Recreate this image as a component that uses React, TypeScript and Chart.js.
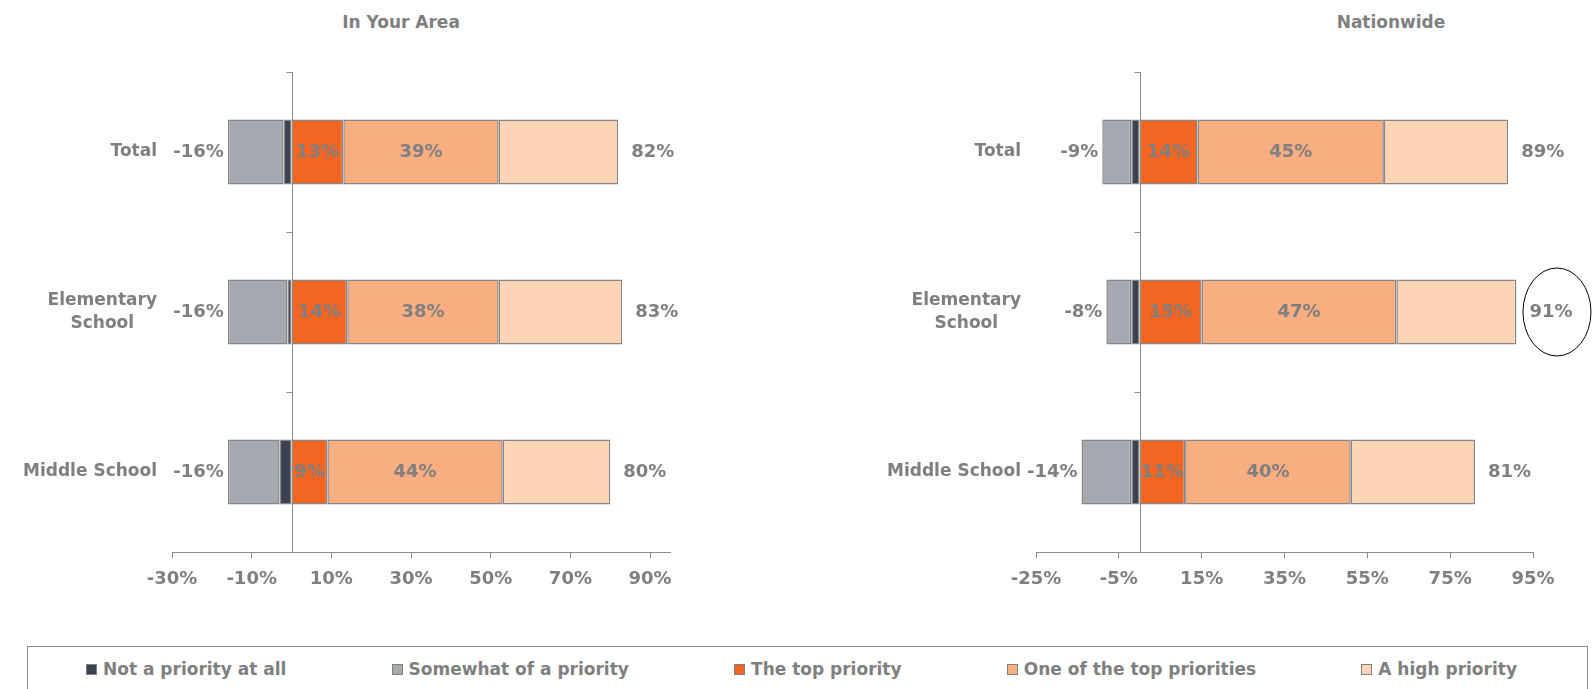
import React, { useEffect, useRef } from "react";
import { Chart, registerables } from "chart.js";

Chart.register(...registerables);

// ---- data ----
const categories: string[][] = [["Total"], ["Elementary", "School"], ["Middle School"]];
const seriesNames = [
  "Not a priority at all",
  "Somewhat of a priority",
  "The top priority",
  "One of the top priorities",
  "A high priority",
];
const seriesColors = ["#3b4150", "#a6a9af", "#f26522", "#f9ae82", "#fdd4b6"];
const insideLabelSeries = [false, false, true, true, false];

// In Your Area
const areaNotAtAll = [-2, -1, -3];
const areaSomewhat = [-14, -15, -13];
const areaTop = [13, 14, 9];
const areaOneOfTop = [39, 38, 44];
const areaHigh = [30, 31, 27];
const areaTicks = [-30, -10, 10, 30, 50, 70, 90];
const areaMin = -30;
const areaMax = 95;
const areaCircled = [false, false, false];

// Nationwide
const nationNotAtAll = [-2, -2, -2];
const nationSomewhat = [-7, -6, -12];
const nationTop = [14, 15, 11];
const nationOneOfTop = [45, 47, 40];
const nationHigh = [30, 29, 30];
const nationTicks = [-25, -5, 15, 35, 55, 75, 95];
const nationMin = -25;
const nationMax = 95;
const nationCircled = [false, true, false];

// ---- styles ----
const FONT = '"DejaVu Sans", sans-serif';
const TEXT = "#7f7f7f";
const AXIS = "#8c8c8c";
const BORDER = "#868686";

function makeOverlay(circled: boolean[]) {
  return {
    id: "overlay",
    afterDatasetsDraw(chart: any) {
      const { ctx, chartArea } = chart;
      const xs = chart.scales.x;
      const ys = chart.scales.y;
      const labels = chart.data.labels as string[][];
      const n = labels.length;
      ctx.save();
      // zero axis with category tick marks
      const x0 = Math.round(xs.getPixelForValue(0)) + 0.5;
      ctx.strokeStyle = AXIS;
      ctx.lineWidth = 1;
      ctx.beginPath();
      ctx.moveTo(x0, chartArea.top);
      ctx.lineTo(x0, chartArea.bottom);
      for (let i = 0; i <= n; i++) {
        const yy = Math.round(ys.getPixelForValue(i - 0.5)) + 0.5;
        ctx.moveTo(x0 - 6, yy);
        ctx.lineTo(x0, yy);
      }
      ctx.stroke();

      // category labels
      ctx.fillStyle = TEXT;
      ctx.textBaseline = "middle";
      ctx.font = `bold 17px ${FONT}`;
      const right = chartArea.left - 15;
      labels.forEach((lab, i) => {
        const lines = Array.isArray(lab) ? lab : [lab];
        const w = Math.max(...lines.map((l) => ctx.measureText(l).width));
        const cx = right - w / 2;
        const lh = 23;
        const yc = ys.getPixelForValue(i);
        ctx.textAlign = "center";
        lines.forEach((l, k) => ctx.fillText(l, cx, yc + (k - (lines.length - 1) / 2) * lh));
      });

      // value labels
      ctx.font = `bold 18px ${FONT}`;
      const datasets = chart.data.datasets;
      for (let i = 0; i < n; i++) {
        const yc = ys.getPixelForValue(i);
        let neg = 0;
        let pos = 0;
        datasets.forEach((ds: any, di: number) => {
          const v = ds.data[i] as number;
          if (v < 0) neg += v;
          else pos += v;
          if (insideLabelSeries[di]) {
            const el: any = chart.getDatasetMeta(di).data[i];
            ctx.textAlign = "center";
            ctx.fillStyle = TEXT;
            ctx.fillText(`${v}%`, (el.x + el.base) / 2, yc);
          }
        });
        ctx.fillStyle = TEXT;
        ctx.textAlign = "right";
        ctx.fillText(`${neg}%`, xs.getPixelForValue(neg) - 4, yc);
        ctx.textAlign = "left";
        const t = `${pos}%`;
        const tx = xs.getPixelForValue(pos) + 13;
        ctx.fillText(t, tx, yc);
        if (circled[i]) {
          const w = ctx.measureText(t).width;
          ctx.beginPath();
          ctx.ellipse(tx + w / 2 + 6, yc, 34, 44, 0, 0, Math.PI * 2);
          ctx.strokeStyle = "#000";
          ctx.lineWidth = 1;
          ctx.stroke();
        }
      }
      ctx.restore();
    },
  };
}

type PanelProps = {
  values: number[][];
  ticks: number[];
  min: number;
  max: number;
  circled: boolean[];
  left: number;
  width: number;
  height: number;
  padding: { left: number; right: number; top: number; bottom: number };
};

function ChartPanel(props: PanelProps) {
  const ref = useRef<HTMLCanvasElement>(null);
  useEffect(() => {
    const { values, ticks, min, max, circled, padding } = props;
    const chart = new Chart(ref.current as HTMLCanvasElement, {
      type: "bar",
      data: {
        labels: categories,
        datasets: values.map((d, k) => ({
          label: seriesNames[k],
          data: d,
          backgroundColor: seriesColors[k],
          borderColor: BORDER,
          borderWidth: 1.5,
          borderSkipped: false,
          barPercentage: 0.405,
          categoryPercentage: 1,
        })),
      },
      options: {
        indexAxis: "y",
        responsive: false,
        animation: false,
        layout: { padding },
        plugins: {
          legend: { display: false },
          tooltip: { enabled: false },
          title: { display: false },
        },
        scales: {
          x: {
            stacked: true,
            min,
            max,
            afterBuildTicks: (axis: any) => {
              axis.ticks = ticks.map((v) => ({ value: v }));
            },
            afterFit: (axis: any) => {
              axis.height = 40;
            },
            grid: {
              display: true,
              drawOnChartArea: false,
              drawTicks: true,
              tickLength: 6,
              color: AXIS,
              lineWidth: 1,
            },
            border: { display: true, color: AXIS, width: 1 },
            ticks: {
              autoSkip: false,
              maxRotation: 0,
              padding: 11,
              color: TEXT,
              font: { family: FONT, size: 18, weight: "bold" },
              callback: (v: any) => `${v}%`,
            },
          },
          y: { stacked: true, display: false },
        },
      } as any,
      plugins: [makeOverlay(circled)],
    });
    return () => chart.destroy();
  }, []);
  return (
    <canvas
      ref={ref}
      width={props.width}
      height={props.height}
      style={{ position: "absolute", left: props.left, top: 0, width: props.width, height: props.height }}
    />
  );
}

function Legend() {
  return (
    <div
      style={{
        position: "absolute",
        left: 27,
        top: 646,
        width: 1561,
        height: 60,
        boxSizing: "border-box",
        border: `1px solid ${AXIS}`,
        display: "flex",
        justifyContent: "space-between",
        alignItems: "flex-start",
        paddingTop: 12,
        paddingLeft: 58,
        paddingRight: 70,
      }}
    >
      {seriesNames.map((name, k) => (
        <div key={name} style={{ display: "flex", alignItems: "center", lineHeight: "20px" }}>
          <span
            style={{
              display: "inline-block",
              width: 11,
              height: 11,
              boxSizing: "border-box",
              background: seriesColors[k],
              border: `1px solid ${TEXT}`,
              marginRight: 6,
            }}
          />
          <span style={{ font: `bold 17px ${FONT}`, color: TEXT, whiteSpace: "nowrap" }}>{name}</span>
        </div>
      ))}
    </div>
  );
}

const titleStyle: React.CSSProperties = {
  position: "absolute",
  top: 12,
  width: 400,
  textAlign: "center",
  lineHeight: "20px",
  font: `bold 17px ${FONT}`,
  color: TEXT,
};

export default function App() {
  return (
    <div
      style={{
        position: "absolute",
        left: 0,
        top: 0,
        width: 1593,
        height: 689,
        overflow: "hidden",
        background: "#fff",
      }}
    >
      <div style={{ ...titleStyle, left: 201 }}>In Your Area</div>
      <div style={{ ...titleStyle, left: 1191 }}>Nationwide</div>
      <ChartPanel
        values={[areaNotAtAll, areaSomewhat, areaTop, areaOneOfTop, areaHigh]}
        ticks={areaTicks}
        min={areaMin}
        max={areaMax}
        circled={areaCircled}
        left={0}
        width={800}
        height={620}
        padding={{ left: 172, right: 130, top: 72, bottom: 28 }}
      />
      <ChartPanel
        values={[nationNotAtAll, nationSomewhat, nationTop, nationOneOfTop, nationHigh]}
        ticks={nationTicks}
        min={nationMin}
        max={nationMax}
        circled={nationCircled}
        left={800}
        width={793}
        height={620}
        padding={{ left: 236, right: 60, top: 72, bottom: 28 }}
      />
      <Legend />
    </div>
  );
}
